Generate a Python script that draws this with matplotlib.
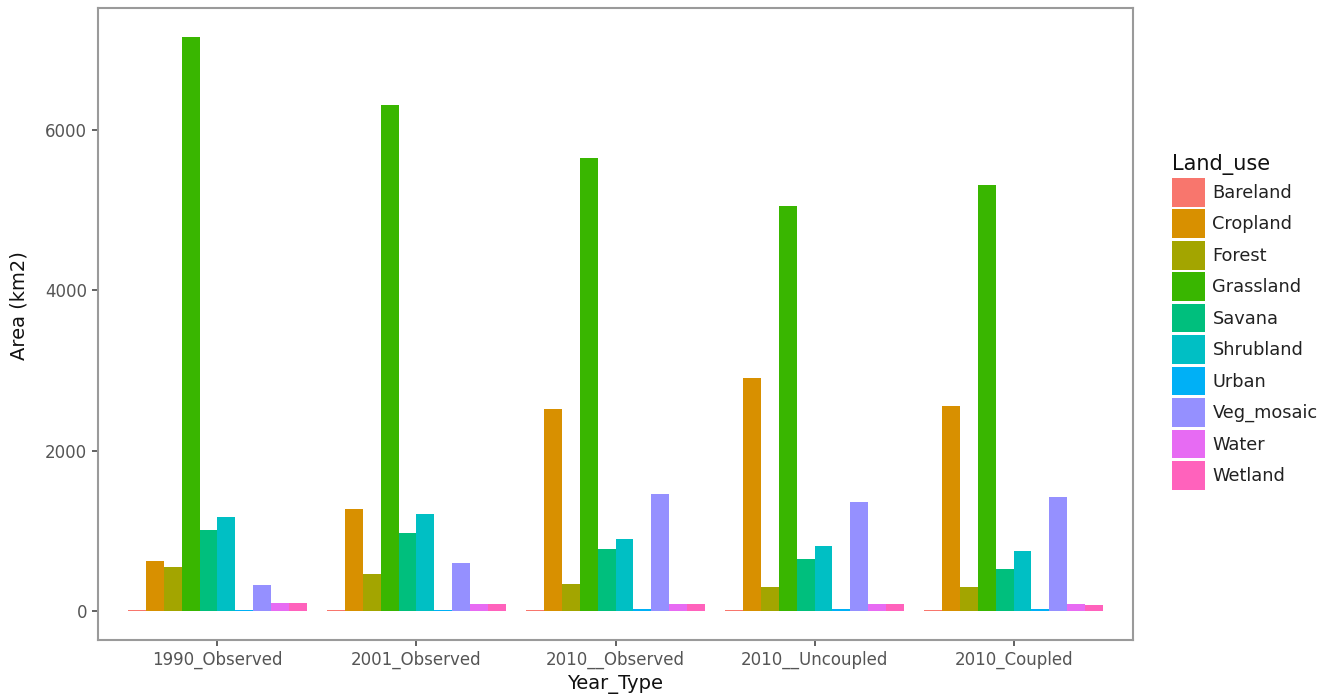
import matplotlib
matplotlib.use("Agg")
import matplotlib.pyplot as plt
from matplotlib.patches import Patch
import numpy as np

plt.rcParams['font.family'] = ['DejaVu Sans']

year_types = ["1990_Observed", "2001_Observed", "2010__Observed", "2010__Uncoupled", "2010_Coupled"]
land_uses = ["Bareland", "Cropland", "Forest", "Grassland", "Savana", "Shrubland",
             "Urban", "Veg_mosaic", "Water", "Wetland"]
colors = ["#F8766D", "#D89000", "#A3A500", "#39B600", "#00BF7D", "#00BFC4",
          "#00B0F6", "#9590FF", "#E76BF3", "#FF62BC"]

bareland   = [15, 12, 15, 15, 15]
cropland   = [622, 1278, 2515, 2905, 2556]
forest     = [551, 469, 345, 303, 303]
grassland  = [7158, 6311, 5643, 5054, 5312]
savana     = [1008, 980, 780, 656, 531]
shrubland  = [1174, 1207, 896, 813, 747]
urban      = [15, 20, 34, 30, 30]
veg_mosaic = [324, 606, 1465, 1361, 1423]
water      = [103, 96, 96, 96, 96]
wetland    = [103, 96, 96, 96, 75]

series = [bareland, cropland, forest, grassland, savana, shrubland,
          urban, veg_mosaic, water, wetland]

fig = plt.figure(figsize=(13.4, 6.99), dpi=100)
ax = fig.add_axes([98/1340, 1-640/699, (1133-98)/1340, (640-8)/699])

n = len(land_uses)
bw = 0.9 / n
x = np.arange(1, len(year_types) + 1)
for i, (vals, c) in enumerate(zip(series, colors)):
    ax.bar(x - 0.45 + bw * (i + 0.5), vals, width=bw, color=c, linewidth=0)

ax.set_xlim(0.4, len(year_types) + 0.6)
ymax = max(max(s) for s in series)
ax.set_ylim(-0.05 * ymax, ymax * 1.05)
ax.set_xticks(x)
ax.set_xticklabels(year_types)
ax.set_yticks([0, 2000, 4000, 6000])
ax.tick_params(axis='both', colors='#555555', labelcolor='#555555', labelsize=12,
               length=4, width=1.3, pad=4)
for s in ax.spines.values():
    s.set_color('#9a9a9a')
    s.set_linewidth(1.5)
ax.set_xlabel("Year_Type", fontsize=14, color='#111111', labelpad=4)
ax.set_ylabel("Area (km2)", fontsize=14, color='#111111')
ax.yaxis.set_label_coords(-(98 - 28) / 1035, (640 - 306) / 632)

handles = [Patch(facecolor=c, edgecolor='none') for c in colors]
leg = fig.legend(handles, land_uses, loc='upper left', bbox_to_anchor=(1165/1340, 1-147/699),
                 title="Land_use", frameon=False, fontsize=12.8, title_fontsize=15,
                 handlelength=1.85, handleheight=2.1, labelspacing=0.16, handletextpad=0.42,
                 borderaxespad=0)
leg._legend_box.align = "left"
for t in leg.get_texts():
    t.set_color('#222222')
leg.get_title().set_color('#111111')

fig.savefig("out.png", dpi=100)
